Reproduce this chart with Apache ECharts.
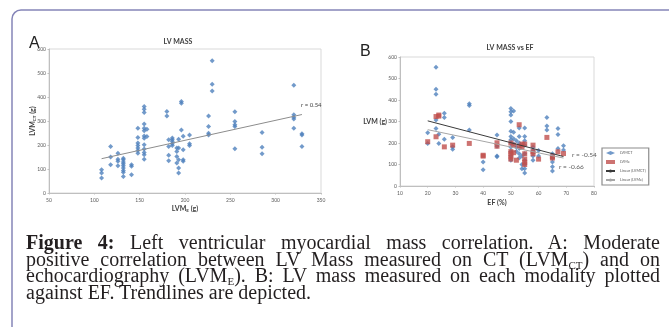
<!DOCTYPE html>
<html lang="en">
<head>
<meta charset="UTF-8">
<title>Figure 4 LV mass</title>
<script src="https://cdn.jsdelivr.net/npm/echarts@6/dist/echarts.min.js"></script>
<style>
  body { margin: 0; background: #fff; }
  #wrap { position: relative; width: 669px; height: 327px; overflow: hidden; }
  #chart { position: absolute; left: 0; top: 0; width: 669px; height: 327px; }
  #cap { position: absolute; left: 26px; top: 234px; width: 634px;
         font-family: "Liberation Serif", "DejaVu Serif", serif; font-size: 20px;
         line-height: 16.5px; color: #231f20; }
  #cap div { text-align: justify; text-align-last: justify; white-space: nowrap; }
  #cap div.last { text-align-last: left; }
  #cap sub { font-size: 11px; line-height: 0; vertical-align: -3px; }
</style>
</head>
<body>
<div id="wrap">
  <div id="chart"></div>
  <div id="cap">
    <div><b>Figure 4:</b> Left ventricular myocardial mass correlation. A: Moderate</div>
    <div>positive correlation between LV Mass measured on CT (LVM<sub>CT</sub>) and on</div>
    <div>echocardiography (LVM<sub>E</sub>). B: LV mass measured on each modality plotted</div>
    <div class="last">against EF. Trendlines are depicted.</div>
  </div>
</div>
<script type="text/javascript">
    // A: LVM echo (x) vs LVM CT (y)
    var echoA = [108,108,108, 118,118,118, 126,126,126,126,
        132,132,132,132,132,132,132,132,132, 141,141,141,
        148,148,148,148,148,148,148,
        155,155,155,155,155,155,155,155,155,155,155,155,155, 158,158,
        180,180, 182,182,182,182, 186,186,186,186,186, 191,191,191,191,
        193,193,193,193,193, 196,196,196, 198,198,198,198, 205,205,205,
        226,226,226,226, 230,230,230, 255,255,255,255,255, 285,285,285,
        320,320,320,320,320, 329,329,329];
    var ctA = [97,83,63, 194,150,118, 166,141,132,114,
        145,139,129,122,114,104,94,86,69, 118,111,76,
        270,231,208,198,188,177,166,
        360,349,335,287,270,259,238,228,201,183,169,159,141, 266,235,
        340,321, 222,194,157,134, 229,222,215,205,198, 187,173,152,125,
        224,187,139,104,83, 381,374,263, 236,180,139,132, 242,205,198,
        321,277,249,242, 551,453,425, 339,298,284,277,184, 252,191,164,
        449,326,316,308,270, 247,242,194];
    var trendA = [[108, 143], [329, 327]];

    // B: LVM vs EF, CT (blue) and echo (red)
    var efCT = [20,20, 23,23,23,23,23, 24,24, 26,26,26, 29,29,29, 35,35,35, 40,40, 45,45,45,45,
        50,50,50,50,50,50,50,50,50,50,50,50, 51,51,51,51, 52,52,52, 53,53,53,53,53,53,
        54,54,54,54, 55,55,55,55,55,55,55,55,55, 58,58,58,58, 60,60, 63,63,63,
        65,65,65,65,65, 67,67,67, 69,69];
    var lvmCT = [248,198, 552,450,427,307,268, 241,198, 338,319,217, 226,182,171, 382,374,260, 112,76, 237,185,139,136,
        360,345,330,300,255,230,215,200,180,160,140,120, 349,250,220,195, 210,180,160, 270,230,200,175,150,130,
        190,140,100,80, 270,230,210,190,150,120,100,80,60, 180,165,140,120, 165,140, 319,279,260,
        150,130,112,90,70, 268,240,175, 187,167];
    var efE = [20, 23,23, 24,24, 26, 29, 35, 40,40, 45,45, 50,50,50,50,50, 51,51, 52, 53,53, 54,54,
        55,55,55,55,55, 58,58,58, 60, 63, 65,65, 67, 69];
    var lvmE = [206, 323,229, 330,325, 182, 190, 198, 143,139, 201,185, 200,160,150,135,125, 190,155, 120, 285,185, 195,180,
        195,150,125,110,100, 190,160,150, 125, 226, 136,130, 159, 151];
    var trendCT = [[20, 303], [69, 137]];
    var trendE = [[20, 262], [69, 130]];
    var rLabels = ['r = 0.54', 'r = -0.54', 'r = -0.66'];

    function pairs(xs, ys) {
        return xs.map(function (x, i) { return [x, ys[i]]; });
    }

    var font = 'Lato';
    var blue = '#4f81bd', red = '#c0504d';

    function axis(min, max, step, gridIndex, margin) {
        return {
            gridIndex: gridIndex, min: min, max: max, interval: step,
            nameMoveOverlap: false,
            axisLine: {show: true, lineStyle: {color: '#bfbfbf', width: 1}},
            axisTick: {show: true, length: 1.5, lineStyle: {color: '#bfbfbf'}},
            splitLine: {show: false},
            axisLabel: {fontSize: 5, color: '#595959', margin: margin, fontFamily: font}
        };
    }

    var chart = echarts.init(document.getElementById('chart'), null, {renderer: 'canvas'});

    var xA = axis(50, 350, 50, 0, 5);
    xA.name = '{b|LVM}{s|E}{b| (g)}';
    xA.nameLocation = 'middle';
    xA.nameGap = 11;
    xA.nameTextStyle = {rich: {b: {fontSize: 7, fontWeight: 'bold', color: '#404040', fontFamily: font},
        s: {fontSize: 4.5, fontWeight: 'bold', color: '#404040', fontFamily: font, verticalAlign: 'bottom', padding: [4, 0, 0, 0]}}};
    var yA = axis(0, 600, 100, 0, 3);
    yA.name = '{b|LVM}{s|CT}{b| (g)}';
    yA.nameLocation = 'middle';
    yA.nameGap = 12;
    yA.nameRotate = 90;
    yA.nameTextStyle = xA.nameTextStyle;

    var xB = axis(10, 80, 10, 1, 5);
    xB.name = 'EF (%)';
    xB.nameLocation = 'middle';
    xB.nameGap = 13;
    xB.nameTextStyle = {fontSize: 7, fontWeight: 'bold', color: '#404040', fontFamily: font};
    var yB = axis(0, 600, 100, 1, 3);
    yB.name = 'LVM (g)';
    yB.nameLocation = 'middle';
    yB.nameGap = 13;
    yB.nameRotate = 0;
    yB.nameTextStyle = {fontSize: 7, fontWeight: 'bold', color: '#404040', fontFamily: font, align: 'right'};

    var option = {
        animation: false,
        textStyle: {fontFamily: font},
        title: [
            {text: 'LV MASS', left: 173, top: 33, textAlign: 'center',
                textStyle: {fontSize: 7, fontWeight: 'bold', color: '#404040', fontFamily: font}},
            {text: 'LV MASS vs EF', left: 505, top: 39, textAlign: 'center',
                textStyle: {fontSize: 7, fontWeight: 'bold', color: '#404040', fontFamily: font}}
        ],
        grid: [
            {left: 49, top: 49, width: 272, height: 144, show: true, borderColor: '#d9d9d9', borderWidth: 1},
            {left: 400, top: 57, width: 194, height: 129, show: true, borderColor: '#d9d9d9', borderWidth: 1}
        ],
        xAxis: [xA, xB],
        yAxis: [yA, yB],
        legend: {
            data: ['LVMCT', 'LVMe', 'Linear (LVMCT)', 'Linear (LVMe)'],
            orient: 'vertical', left: 602, top: 148,
            itemWidth: 9, itemHeight: 4, itemGap: 5, padding: [3, 3, 3, 3],
            borderColor: '#8c8c8c', borderWidth: 1.2,
            textStyle: {fontSize: 3.8, color: '#595959', fontFamily: font}
        },
        graphic: [
            {type: 'rect', shape: {x: 12, y: 10, width: 720, height: 400, r: 9},
                style: {fill: 'none', stroke: '#8585b8', lineWidth: 1.5}, silent: true},
            {type: 'text', left: 29, top: 36, style: {text: 'A', fontSize: 16, fill: '#222', fontFamily: 'Liberation Sans'}},
            {type: 'text', left: 360, top: 44, style: {text: 'B', fontSize: 16, fill: '#222', fontFamily: 'Liberation Sans'}},
            {type: 'text', left: 301, top: 102, style: {text: rLabels[0], fontSize: 6, fill: '#404040', fontFamily: font}},
            {type: 'text', left: 572, top: 151, style: {text: rLabels[1], fontSize: 6.5, fill: '#595959', fontFamily: font}},
            {type: 'text', left: 559, top: 163, style: {text: rLabels[2], fontSize: 6.5, fill: '#595959', fontFamily: font}}
        ],
        series: [
            {name: 'A', type: 'scatter', xAxisIndex: 0, yAxisIndex: 0, symbol: 'diamond', symbolSize: 5,
                itemStyle: {color: blue}, data: pairs(echoA, ctA)},
            {name: 'trendA', type: 'line', xAxisIndex: 0, yAxisIndex: 0, symbol: 'none',
                lineStyle: {color: '#8c8c8c', width: 1}, data: trendA},
            {name: 'LVMCT', type: 'scatter', xAxisIndex: 1, yAxisIndex: 1, symbol: 'diamond', symbolSize: 5,
                itemStyle: {color: blue}, data: pairs(efCT, lvmCT), z: 3},
            {name: 'LVMe', type: 'scatter', xAxisIndex: 1, yAxisIndex: 1, symbol: 'rect', symbolSize: 5,
                itemStyle: {color: red}, data: pairs(efE, lvmE), z: 4},
            {name: 'Linear (LVMCT)', type: 'line', xAxisIndex: 1, yAxisIndex: 1, symbol: 'none',
                lineStyle: {color: '#3a3a3a', width: 1}, itemStyle: {color: '#3a3a3a'}, data: trendCT, z: 5},
            {name: 'Linear (LVMe)', type: 'line', xAxisIndex: 1, yAxisIndex: 1, symbol: 'none',
                lineStyle: {color: '#a6a6a6', width: 1}, itemStyle: {color: '#a6a6a6'}, data: trendE, z: 5}
        ]
    };
    chart.setOption(option);
</script>
</body>
</html>
